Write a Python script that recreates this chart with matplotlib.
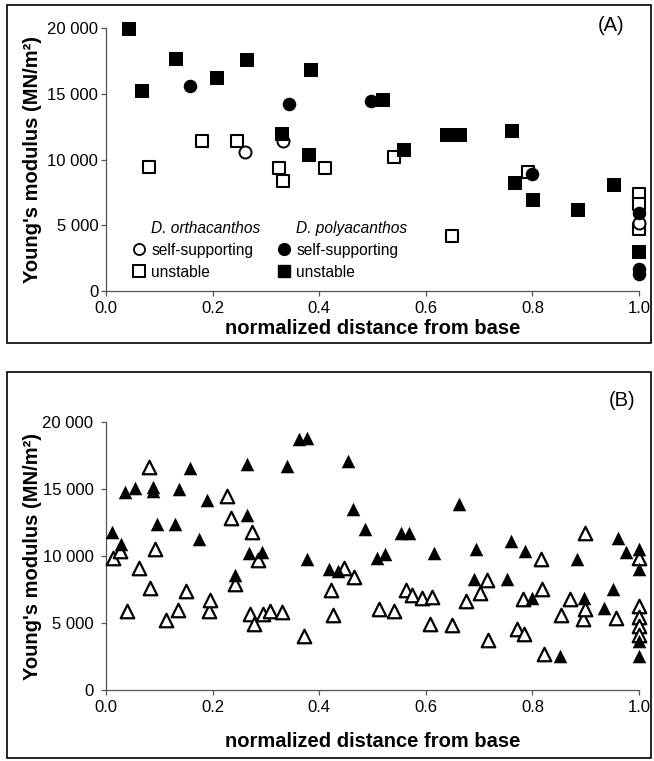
import matplotlib

matplotlib.use('Agg')
import matplotlib.pyplot as plt
from matplotlib.lines import Line2D
from matplotlib.patches import Rectangle

plt.rcParams['font.family'] = ['Liberation Sans', 'DejaVu Sans']

# panel A : D. orthacanthos (open) / D. polyacanthos (filled)
orth_ss_x = [0.261, 0.332, 1.0]
orth_ss_y = [10560, 11390, 5200]
orth_un_x = [0.081, 0.180, 0.245, 0.324, 0.333, 0.411, 0.540, 0.649, 0.791, 1.0, 1.0, 1.0]
orth_un_y = [9400, 11390, 11390, 9325, 8375, 9325, 10200, 4200, 9075, 7400, 6600, 4700]
poly_ss_x = [0.157, 0.343, 0.498, 0.800, 1.0, 1.0, 1.0]
poly_ss_y = [15620, 14230, 14430, 8900, 5900, 1700, 1300]
poly_un_x = [0.043, 0.068, 0.132, 0.209, 0.265, 0.330, 0.385, 0.380, 0.520, 0.559,
             0.639, 0.665, 0.761, 0.767, 0.801, 0.885, 0.953, 1.0]
poly_un_y = [19920, 15190, 17650, 16180, 17570, 11950, 16840, 10380, 14510, 10760,
             11900, 11900, 12200, 8250, 6950, 6170, 8075, 2950]

# panel B
b_fill_x = [0.011, 0.029, 0.036, 0.054, 0.088, 0.088, 0.096, 0.129, 0.137, 0.158,
            0.175, 0.189, 0.242, 0.264, 0.264, 0.268, 0.293, 0.340, 0.363, 0.377,
            0.377, 0.419, 0.435, 0.454, 0.464, 0.486, 0.509, 0.523, 0.553, 0.569,
            0.615, 0.663, 0.691, 0.694, 0.753, 0.759, 0.787, 0.799, 0.852, 0.883,
            0.897, 0.935, 0.951, 0.960, 0.976, 1.0, 1.0, 1.0, 1.0]
b_fill_y = [11820, 10870, 14780, 15080, 15180, 14850, 12370, 12370, 14980, 16600,
            11300, 14160, 8560, 16900, 13040, 10250, 10330, 16720, 18710, 18840,
            9800, 9010, 8880, 17090, 13540, 11990, 9880, 10130, 11690, 11690,
            10250, 13860, 8260, 10500, 8310, 11120, 10370, 6840, 2540, 9750,
            6840, 6150, 7520, 11370, 10300, 10550, 9010, 3660, 2540]
b_open_x = [0.014, 0.027, 0.040, 0.061, 0.081, 0.083, 0.092, 0.112, 0.135, 0.150,
            0.194, 0.195, 0.227, 0.235, 0.242, 0.271, 0.274, 0.278, 0.286, 0.295,
            0.308, 0.330, 0.372, 0.422, 0.426, 0.446, 0.465, 0.513, 0.541, 0.563,
            0.575, 0.593, 0.607, 0.612, 0.650, 0.675, 0.702, 0.714, 0.716, 0.771,
            0.783, 0.784, 0.816, 0.818, 0.822, 0.853, 0.870, 0.894, 0.898, 0.898,
            0.957, 1.0, 1.0, 1.0, 1.0, 1.0]
b_open_y = [9880, 10370, 5900, 9080, 16640, 7590, 10550, 5200, 5970, 7390,
            5900, 6690, 14480, 12860, 7940, 5650, 11820, 4900, 9700, 5650,
            5900, 5820, 4030, 7460, 5600, 9130, 8430, 6070, 5900, 7460,
            7070, 6840, 4950, 6940, 4830, 6640, 7220, 8190, 3710, 4530,
            6770, 4160, 9800, 7570, 2720, 5600, 6820, 5280, 11750, 6070,
            5350, 9880, 6270, 5480, 4780, 4080]

yticks = [0, 5000, 10000, 15000, 20000]
xticks = [0.0, 0.2, 0.4, 0.6, 0.8, 1.0]

W, H = 654, 761
fig = plt.figure(figsize=(W / 100, H / 100), dpi=100)


def px_axes(x0, x1, ytop, ybot):
    return fig.add_axes([x0 / W, 1 - ybot / H, (x1 - x0) / W, (ybot - ytop) / H])


def style(ax, xpad, ypad):
    ax.set_xlim(0, 1)
    ax.set_ylim(0, 20000)
    ax.set_xticks(xticks)
    ax.set_xticklabels(['%.1f' % v for v in xticks])
    ax.set_yticks(yticks)
    ax.set_yticklabels([('{:,}'.format(v)).replace(',', ' ') for v in yticks])
    for s in ['top', 'right']:
        ax.spines[s].set_visible(False)
    for s in ['left', 'bottom']:
        ax.spines[s].set_color('#555555')
        ax.spines[s].set_linewidth(0.9)
    ax.tick_params(length=3.5, width=0.9, color='#555555', labelsize=12, pad=4)
    ax.tick_params(axis='y', pad=ypad)
    ax.set_xlabel('normalized distance from base', fontsize=14.5, fontweight='bold', labelpad=xpad)
    ax.set_ylabel("Young's modulus (MN/m²)", fontsize=14.5, fontweight='bold')
    ax.yaxis.set_label_coords(-0.12, 0.5)


# frames round the panels
fig.patches.append(Rectangle((7 / W, 1 - 343 / H), 644 / W, 338 / H, transform=fig.transFigure,
                             fill=False, lw=1.2, ec='black'))
fig.patches.append(Rectangle((7 / W, 1 - 758 / H), 644 / W, 386 / H, transform=fig.transFigure,
                             fill=False, lw=1.2, ec='black'))

ms = 95
# ---- (A)
ax = px_axes(106, 639, 28, 291)
ax.scatter(orth_un_x, orth_un_y, s=80, marker='s', facecolors='white', edgecolors='black', lw=1.5,
           clip_on=False, zorder=3)
ax.scatter(orth_ss_x, orth_ss_y, s=75, marker='o', facecolors='white', edgecolors='black', lw=1.4,
           clip_on=False, zorder=3)
ax.scatter(poly_un_x, poly_un_y, s=100, marker='s', c='black', lw=0, clip_on=False, zorder=4)
ax.scatter(poly_ss_x, poly_ss_y, s=95, marker='o', c='black', lw=0, clip_on=False, zorder=4)
style(ax, 2, 2)
ax.text(0.947, 1.01, '(A)', transform=ax.transAxes, fontsize=14.5, ha='center', va='center')

hs = [Line2D([], [], ls='none'),
      Line2D([], [], ls='none', marker='o', mfc='white', mec='black', ms=8, mew=1.3),
      Line2D([], [], ls='none', marker='s', mfc='white', mec='black', ms=8, mew=1.4),
      Line2D([], [], ls='none'),
      Line2D([], [], ls='none', marker='o', mfc='black', mec='black', ms=8.5),
      Line2D([], [], ls='none', marker='s', mfc='black', mec='black', ms=8.5)]
labs = ['D. orthacanthos', 'self-supporting', 'unstable',
        'D. polyacanthos', 'self-supporting', 'unstable']
leg = ax.legend(hs, labs, ncol=2, frameon=False, loc='upper left', bbox_to_anchor=(0.05, 0.268),
                fontsize=11.2, handlelength=0.8, handletextpad=0.4, columnspacing=1.1,
                labelspacing=0.45, borderaxespad=0, borderpad=0)
for i in (0, 3):
    leg.get_texts()[i].set_fontstyle('italic')

# ---- (B)
ax2 = px_axes(106, 639, 422, 690)
ax2.scatter(b_open_x, b_open_y, s=ms, marker='^', facecolors='white', edgecolors='black', lw=1.6,
            clip_on=False, zorder=3)
ax2.scatter(b_fill_x, b_fill_y, s=ms, marker='^', c='black', lw=0, clip_on=False, zorder=3)
style(ax2, 12, 5.5)
ax2.text(0.968, 1.08, '(B)', transform=ax2.transAxes, fontsize=14.5, ha='center', va='center')

plt.savefig('out.png', dpi=100)
